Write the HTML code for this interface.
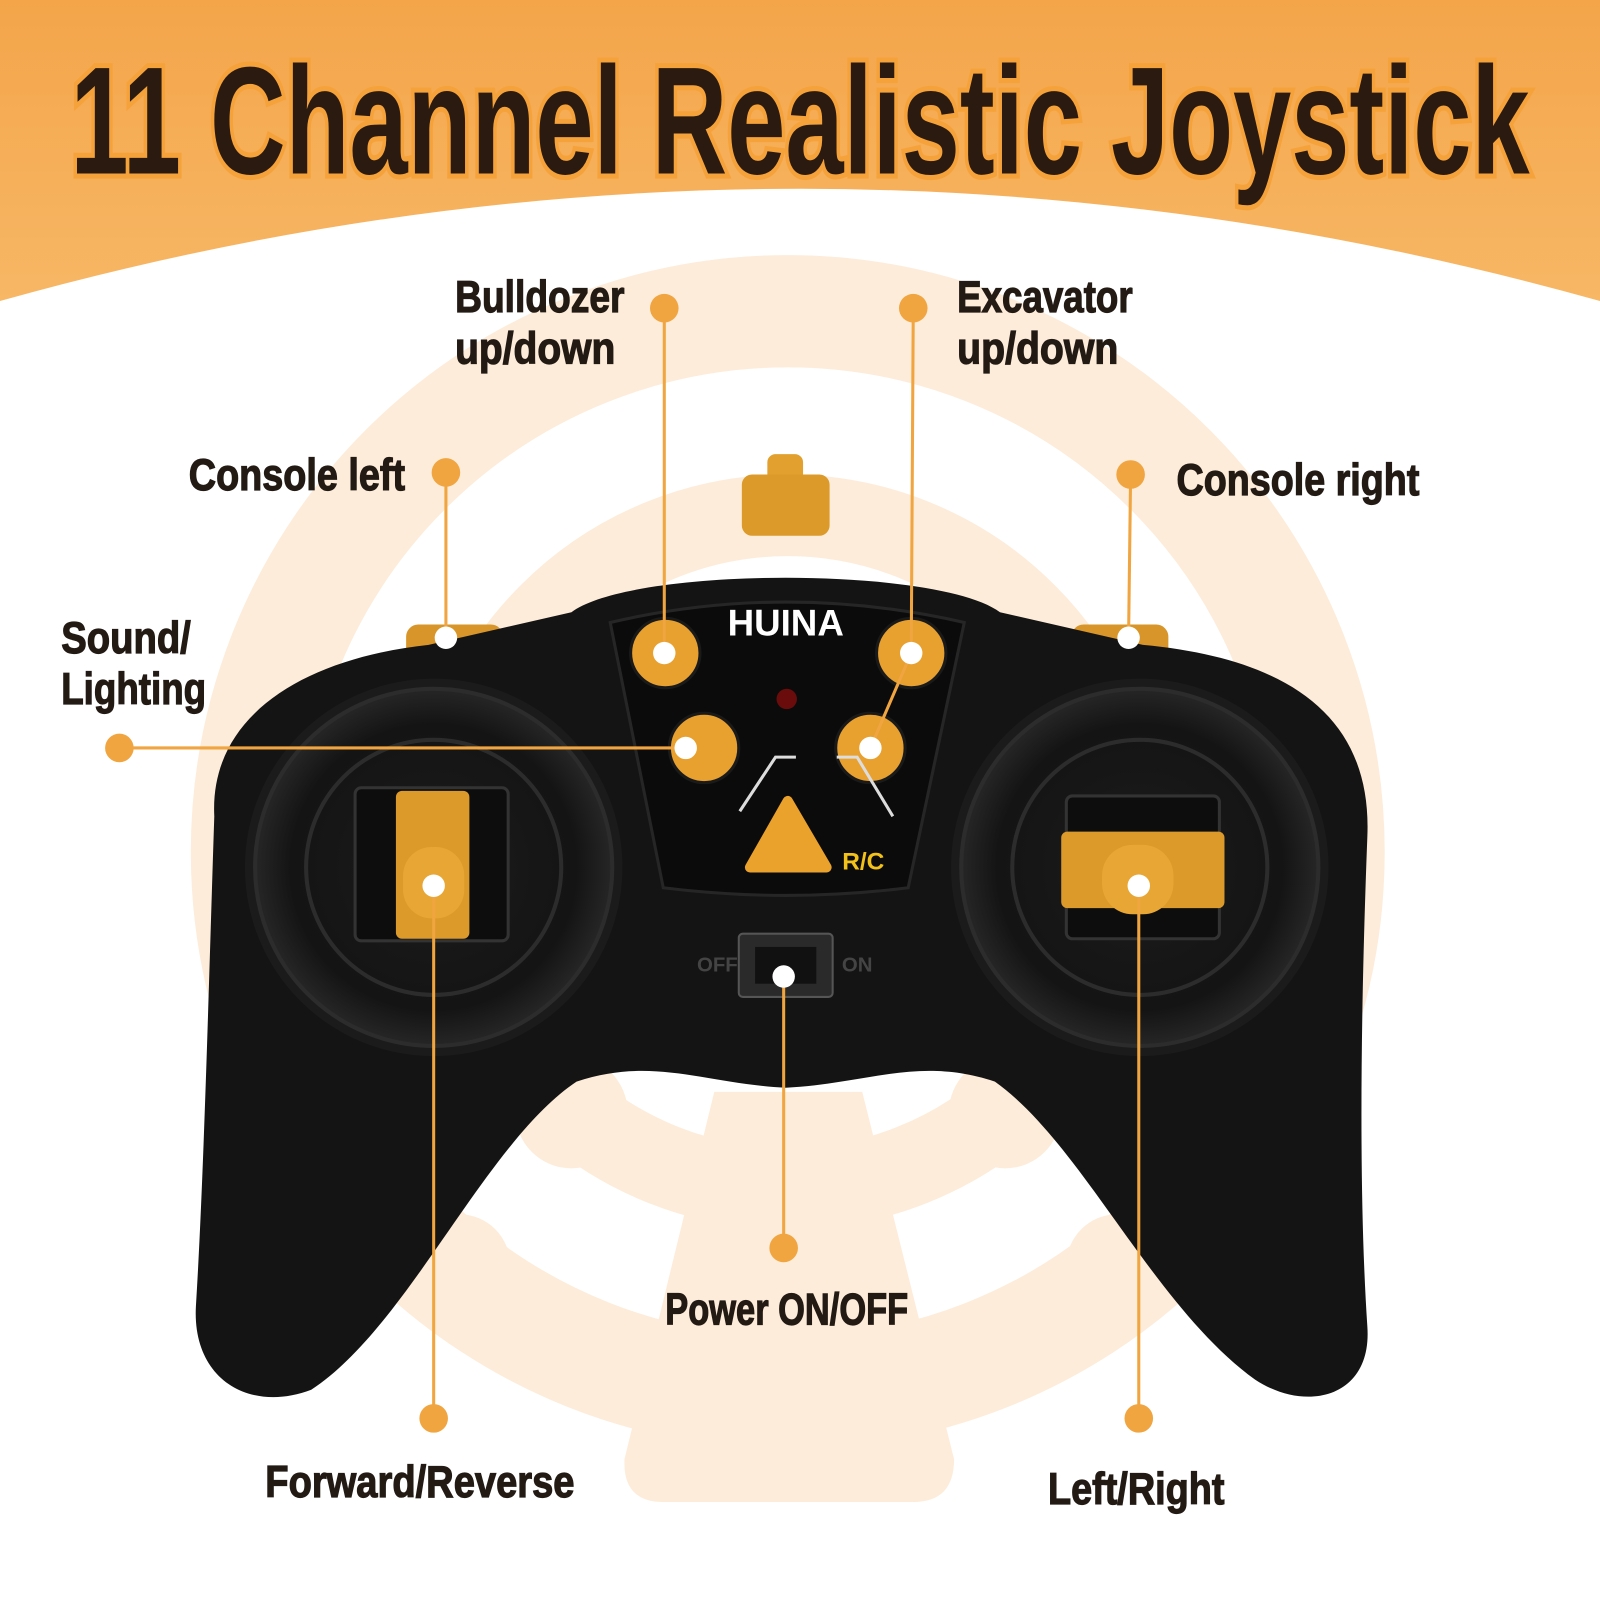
<!DOCTYPE html>
<html><head><meta charset="utf-8"><style>
html,body{margin:0;padding:0;background:#fff}
svg{display:block}
text{font-family:"Liberation Sans",sans-serif;font-weight:bold}
</style></head><body>
<svg width="1600" height="1600" viewBox="0 0 1568 1568" xmlns="http://www.w3.org/2000/svg">
<defs>
<linearGradient id="og" x1="0" y1="0" x2="0" y2="1">
<stop offset="0" stop-color="#f4a54a"/><stop offset="1" stop-color="#f7b765"/></linearGradient>
<radialGradient id="well" cx="0.5" cy="0.5" r="0.5">
<stop offset="0" stop-color="#1c1c1c"/><stop offset="0.8" stop-color="#141414"/><stop offset="1" stop-color="#262626"/></radialGradient>
</defs>
<rect width="1568" height="1568" fill="#fff"/>
<path d="M0,0 H1568 V295 Q784,75 0,295 Z" fill="url(#og)"/>
<g fill="none" stroke="#fdecd9">
<circle cx="772" cy="835" r="530" stroke-width="110"/>
<circle cx="772" cy="835" r="330" stroke-width="80"/>
</g>
<path d="M700,1070 L845,1070 L935,1430 Q935,1472 895,1472 L650,1472 Q610,1472 612,1430 Z" fill="#fdecd9"/>
<circle cx="560" cy="1090" r="55" fill="#fdecd9"/><circle cx="985" cy="1090" r="55" fill="#fdecd9"/>
<circle cx="450" cy="1240" r="50" fill="#fdecd9"/><circle cx="1095" cy="1240" r="50" fill="#fdecd9"/>
<text x="784" y="170" text-anchor="middle" font-size="150" textLength="1430" lengthAdjust="spacingAndGlyphs" fill="#2a1a10" stroke="#f6a23a" stroke-width="10" paint-order="stroke" style="font-weight:900">11 Channel Realistic Joystick</text>
<rect x="752" y="445" width="35" height="30" rx="8" fill="#e2a02e"/>
<rect x="727" y="465" width="86" height="60" rx="10" fill="#dc9a2a"/>
<rect x="398" y="612" width="95" height="36" rx="12" fill="#d8952a"/>
<rect x="1050" y="612" width="95" height="36" rx="12" fill="#d8952a"/>
<path d="M210,800 C205,700 300,645 420,632 L560,600 C620,555 920,555 980,600 L1120,632 C1260,645 1345,700 1340,820 C1335,950 1330,1150 1340,1300 C1345,1370 1280,1385 1230,1352 C1130,1280 1060,1120 975,1060 C900,1035 850,1062 770,1066 C690,1062 640,1035 565,1060 C475,1120 400,1300 305,1362 C245,1385 188,1352 192,1280 C200,1150 205,950 210,800 Z" fill="#141414"/>
<circle cx="425" cy="850" r="185" fill="#1b1b1b"/>
<circle cx="425" cy="850" r="175" fill="url(#well)" stroke="#2c2c2c" stroke-width="4"/>
<circle cx="425" cy="850" r="125" fill="none" stroke="#2c2c2c" stroke-width="4"/>
<circle cx="1117" cy="850" r="185" fill="#1b1b1b"/>
<circle cx="1117" cy="850" r="175" fill="url(#well)" stroke="#2c2c2c" stroke-width="4"/>
<circle cx="1117" cy="850" r="125" fill="none" stroke="#2c2c2c" stroke-width="4"/>
<path d="M598,610 Q770,570 945,610 L890,870 Q770,885 650,870 Z" fill="#0b0b0b" stroke="#262626" stroke-width="3"/>
<rect x="348" y="772" width="150" height="150" rx="6" fill="#0d0d0d" stroke="#333" stroke-width="3"/>
<rect x="388" y="775" width="72" height="145" rx="6" fill="#dc9a2a"/>
<rect x="395" y="830" width="60" height="70" rx="28" fill="#e8a634"/>
<rect x="1045" y="780" width="150" height="140" rx="6" fill="#0d0d0d" stroke="#333" stroke-width="3"/>
<rect x="1040" y="815" width="160" height="75" rx="6" fill="#dc9a2a"/>
<rect x="1080" y="828" width="70" height="68" rx="30" fill="#e8a634"/>
<g fill="#e8a02e" stroke="#1a1a1a" stroke-width="3">
<circle cx="652" cy="640" r="34"/><circle cx="893" cy="640" r="34"/>
<circle cx="690" cy="733" r="34"/><circle cx="853" cy="733" r="34"/>
</g>
<path d="M772,785 L810,850 L735,850 Z" fill="#eaa22c" stroke="#eaa22c" stroke-width="10" stroke-linejoin="round"/>
<circle cx="771" cy="685" r="10" fill="#6a0c0c"/>
<text x="770" y="623" text-anchor="middle" font-size="36" fill="#fff" style="font-weight:900">HUINA</text>
<text x="846" y="852" text-anchor="middle" font-size="24" fill="#f2c21a">R/C</text>
<path d="M725,795 L760,742 L780,742 M820,742 L840,742 L875,800" stroke="#ddd" stroke-width="3" fill="none"/>
<rect x="724" y="915" width="92" height="62" rx="4" fill="#2a2a2a" stroke="#555" stroke-width="2"/>
<rect x="740" y="928" width="60" height="36" fill="#111"/>
<text x="703" y="952" text-anchor="middle" font-size="20" fill="#444">OFF</text>
<text x="840" y="952" text-anchor="middle" font-size="20" fill="#444">ON</text>
<g stroke="#f0a540" stroke-width="3" fill="none">
<line x1="651" y1="302" x2="651" y2="640"/>
<polyline points="895,302 893,640 853,733"/>
<line x1="437" y1="463" x2="437" y2="625"/>
<line x1="1108" y1="465" x2="1106" y2="625"/>
<line x1="117" y1="733" x2="672" y2="733"/>
<line x1="425" y1="1390" x2="425" y2="868"/>
<line x1="1116" y1="1390" x2="1116" y2="868"/>
<line x1="768" y1="1223" x2="768" y2="957"/>
</g>
<g fill="#f0a540">
<circle cx="651" cy="302" r="14"/><circle cx="895" cy="302" r="14"/>
<circle cx="437" cy="463" r="14"/><circle cx="1108" cy="465" r="14"/>
<circle cx="117" cy="733" r="14"/><circle cx="425" cy="1390" r="14"/>
<circle cx="1116" cy="1390" r="14"/><circle cx="768" cy="1223" r="14"/>
</g>
<g fill="#fff">
<circle cx="651" cy="640" r="11"/><circle cx="893" cy="640" r="11"/>
<circle cx="672" cy="733" r="11"/><circle cx="853" cy="733" r="11"/>
<circle cx="437" cy="625" r="11"/><circle cx="1106" cy="625" r="11"/>
<circle cx="425" cy="868" r="11"/><circle cx="1116" cy="868" r="11"/>
<circle cx="768" cy="957" r="11"/>
</g>
<g fill="#231a14" stroke="#231a14" stroke-width="1.2" font-size="44" lengthAdjust="spacingAndGlyphs">
<text x="446" y="306" textLength="166" lengthAdjust="spacingAndGlyphs">Bulldozer</text>
<text x="446" y="356" textLength="157" lengthAdjust="spacingAndGlyphs">up/down</text>
<text x="938" y="306" textLength="172" lengthAdjust="spacingAndGlyphs">Excavator</text>
<text x="938" y="356" textLength="158" lengthAdjust="spacingAndGlyphs">up/down</text>
<text x="185" y="480" textLength="212" lengthAdjust="spacingAndGlyphs">Console left</text>
<text x="1153" y="485" textLength="238" lengthAdjust="spacingAndGlyphs">Console right</text>
<text x="60" y="640" textLength="127" lengthAdjust="spacingAndGlyphs">Sound/</text>
<text x="60" y="690" textLength="142" lengthAdjust="spacingAndGlyphs">Lighting</text>
<text x="652" y="1298" textLength="238" lengthAdjust="spacingAndGlyphs">Power ON/OFF</text>
<text x="260" y="1467" textLength="303" lengthAdjust="spacingAndGlyphs">Forward/Reverse</text>
<text x="1027" y="1474" textLength="173" lengthAdjust="spacingAndGlyphs">Left/Right</text>
</g>
</svg>
</body></html>
